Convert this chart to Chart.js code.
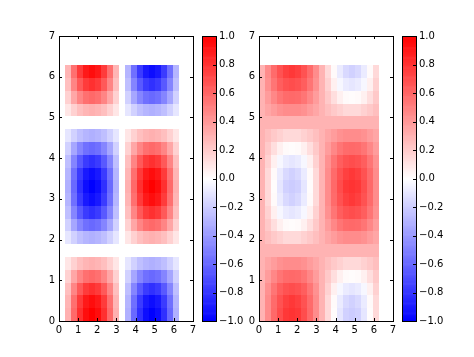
<!DOCTYPE html>
<html><head><meta charset="utf-8">
<script src="https://cdn.jsdelivr.net/npm/chart.js@4.4.1/dist/chart.umd.min.js"></script>
<style>
html,body{margin:0;padding:0;background:#fff;width:474px;height:357px;overflow:hidden;position:relative}
canvas{position:absolute;top:0}
</style></head>
<body>
<canvas id="h1" width="200" height="357" style="left:0;width:200px;height:357px"></canvas>
<canvas id="cb1" width="70" height="357" style="left:190px;width:70px;height:357px"></canvas>
<canvas id="h2" width="200" height="357" style="left:200px;width:200px;height:357px"></canvas>
<canvas id="cb2" width="84" height="357" style="left:390px;width:84px;height:357px"></canvas>
<script>
// cell edges (x and y), tick labels
const xEdges = [0,0.314,0.628,0.942,1.257,1.571,1.885,2.199,2.513,2.827,3.142,3.456,3.770,4.084,4.398,4.712,5.027,5.341,5.655,5.969,6.283];
const yEdges = [0,0.314,0.628,0.942,1.257,1.571,1.885,2.199,2.513,2.827,3.142,3.456,3.770,4.084,4.398,4.712,5.027,5.341,5.655,5.969,6.283];
const axisTicks = [0,1,2,3,4,5,6,7];
const cbarTicks = [-1.0,-0.8,-0.6,-0.4,-0.2,0.0,0.2,0.4,0.6,0.8,1.0];

// left panel values, rows bottom (y=0) to top
const leftValues = [
 [0,.31,.59,.81,.95,1,.95,.81,.59,.31,0,-.31,-.59,-.81,-.95,-1,-.95,-.81,-.59,-.31],
 [0,.29,.56,.77,.90,.95,.90,.77,.56,.29,0,-.29,-.56,-.77,-.90,-.95,-.90,-.77,-.56,-.29],
 [0,.25,.48,.65,.77,.81,.77,.65,.48,.25,0,-.25,-.48,-.65,-.77,-.81,-.77,-.65,-.48,-.25],
 [0,.18,.35,.48,.56,.59,.56,.48,.35,.18,0,-.18,-.35,-.48,-.56,-.59,-.56,-.48,-.35,-.18],
 [0,.10,.18,.25,.29,.31,.29,.25,.18,.10,0,-.10,-.18,-.25,-.29,-.31,-.29,-.25,-.18,-.10],
 [0,0,0,0,0,0,0,0,0,0,0,0,0,0,0,0,0,0,0,0],
 [0,-.10,-.18,-.25,-.29,-.31,-.29,-.25,-.18,-.10,0,.10,.18,.25,.29,.31,.29,.25,.18,.10],
 [0,-.18,-.35,-.48,-.56,-.59,-.56,-.48,-.35,-.18,0,.18,.35,.48,.56,.59,.56,.48,.35,.18],
 [0,-.25,-.48,-.65,-.77,-.81,-.77,-.65,-.48,-.25,0,.25,.48,.65,.77,.81,.77,.65,.48,.25],
 [0,-.29,-.56,-.77,-.90,-.95,-.90,-.77,-.56,-.29,0,.29,.56,.77,.90,.95,.90,.77,.56,.29],
 [0,-.31,-.59,-.81,-.95,-1,-.95,-.81,-.59,-.31,0,.31,.59,.81,.95,1,.95,.81,.59,.31],
 [0,-.29,-.56,-.77,-.90,-.95,-.90,-.77,-.56,-.29,0,.29,.56,.77,.90,.95,.90,.77,.56,.29],
 [0,-.25,-.48,-.65,-.77,-.81,-.77,-.65,-.48,-.25,0,.25,.48,.65,.77,.81,.77,.65,.48,.25],
 [0,-.18,-.35,-.48,-.56,-.59,-.56,-.48,-.35,-.18,0,.18,.35,.48,.56,.59,.56,.48,.35,.18],
 [0,-.10,-.18,-.25,-.29,-.31,-.29,-.25,-.18,-.10,0,.10,.18,.25,.29,.31,.29,.25,.18,.10],
 [0,0,0,0,0,0,0,0,0,0,0,0,0,0,0,0,0,0,0,0],
 [0,.10,.18,.25,.29,.31,.29,.25,.18,.10,0,-.10,-.18,-.25,-.29,-.31,-.29,-.25,-.18,-.10],
 [0,.18,.35,.48,.56,.59,.56,.48,.35,.18,0,-.18,-.35,-.48,-.56,-.59,-.56,-.48,-.35,-.18],
 [0,.25,.48,.65,.77,.81,.77,.65,.48,.25,0,-.25,-.48,-.65,-.77,-.81,-.77,-.65,-.48,-.25],
 [0,.29,.56,.77,.90,.95,.90,.77,.56,.29,0,-.29,-.56,-.77,-.90,-.95,-.90,-.77,-.56,-.29]
];

// right panel values, rows bottom (y=0) to top
const rightValues = [
 [.30,.45,.59,.70,.78,.80,.78,.70,.59,.45,.30,.15,.01,-.10,-.18,-.20,-.18,-.10,.01,.15],
 [.30,.45,.58,.68,.75,.78,.75,.68,.58,.45,.30,.15,.02,-.08,-.15,-.18,-.15,-.08,.02,.15],
 [.30,.43,.54,.63,.68,.70,.68,.63,.54,.43,.30,.18,.06,-.03,-.08,-.10,-.08,-.03,.06,.18],
 [.30,.39,.47,.54,.58,.59,.58,.54,.47,.39,.30,.21,.13,.06,.02,.01,.02,.06,.13,.21],
 [.30,.35,.39,.43,.45,.45,.45,.43,.39,.35,.30,.25,.21,.18,.15,.15,.15,.18,.21,.25],
 [.30,.30,.30,.30,.30,.30,.30,.30,.30,.30,.30,.30,.30,.30,.30,.30,.30,.30,.30,.30],
 [.30,.25,.21,.18,.15,.15,.15,.18,.21,.25,.30,.35,.39,.43,.45,.45,.45,.43,.39,.35],
 [.30,.21,.13,.06,.02,.01,.02,.06,.13,.21,.30,.39,.47,.54,.58,.59,.58,.54,.47,.39],
 [.30,.18,.06,-.03,-.08,-.10,-.08,-.03,.06,.18,.30,.43,.54,.63,.68,.70,.68,.63,.54,.43],
 [.30,.15,.02,-.08,-.15,-.18,-.15,-.08,.02,.15,.30,.45,.58,.68,.75,.78,.75,.68,.58,.45],
 [.30,.15,.01,-.10,-.18,-.20,-.18,-.10,.01,.15,.30,.45,.59,.70,.78,.80,.78,.70,.59,.45],
 [.30,.15,.02,-.08,-.15,-.18,-.15,-.08,.02,.15,.30,.45,.58,.68,.75,.78,.75,.68,.58,.45],
 [.30,.18,.06,-.03,-.08,-.10,-.08,-.03,.06,.18,.30,.43,.54,.63,.68,.70,.68,.63,.54,.43],
 [.30,.21,.13,.06,.02,.01,.02,.06,.13,.21,.30,.39,.47,.54,.58,.59,.58,.54,.47,.39],
 [.30,.25,.21,.18,.15,.15,.15,.18,.21,.25,.30,.35,.39,.43,.45,.45,.45,.43,.39,.35],
 [.30,.30,.30,.30,.30,.30,.30,.30,.30,.30,.30,.30,.30,.30,.30,.30,.30,.30,.30,.30],
 [.30,.35,.39,.43,.45,.45,.45,.43,.39,.35,.30,.25,.21,.18,.15,.15,.15,.18,.21,.25],
 [.30,.39,.47,.54,.58,.59,.58,.54,.47,.39,.30,.21,.13,.06,.02,.01,.02,.06,.13,.21],
 [.30,.43,.54,.63,.68,.70,.68,.63,.54,.43,.30,.18,.06,-.03,-.08,-.10,-.08,-.03,.06,.18],
 [.30,.45,.58,.68,.75,.78,.75,.68,.58,.45,.30,.15,.02,-.08,-.15,-.18,-.15,-.08,.02,.15]
];

const FONT = {family:'"DejaVu Sans", sans-serif', size:10};

function bwr(v){
  v = Math.max(-1, Math.min(1, v));
  let r,g,b;
  if (v < 0){ r = g = Math.round(255*(1+v)); b = 255; }
  else { r = 255; g = b = Math.round(255*(1-v)); }
  return 'rgb('+r+','+g+','+b+')';
}

function cellsFrom(Z){
  const out = [];
  for (let j=0;j<Z.length;j++) for (let i=0;i<Z[j].length;i++)
    out.push({x:xEdges[i], y:yEdges[j], x1:xEdges[i+1], y1:yEdges[j+1], v:Z[j][i]});
  return out;
}

const heatPlugin = {
  id:'heat',
  beforeDatasetsDraw(chart){
    const {ctx} = chart, x = chart.scales.x, y = chart.scales.y;
    ctx.save();
    for (const c of chart.data.datasets[0].data){
      const a = Math.round(x.getPixelForValue(c.x)), b = Math.round(x.getPixelForValue(c.x1));
      const p = Math.round(y.getPixelForValue(c.y1)), q = Math.round(y.getPixelForValue(c.y));
      ctx.fillStyle = bwr(c.v);
      ctx.fillRect(a, p, b-a, q-p);
    }
    ctx.restore();
  }
};

const framePlugin = {
  id:'frame',
  afterDraw(chart, args, opts){
    const {ctx, chartArea:a} = chart;
    const L = 3;
    ctx.save();
    ctx.strokeStyle = '#000'; ctx.lineWidth = 1;
    ctx.beginPath();
    if (opts.xt){
      const s = chart.scales.x;
      for (const t of s.ticks){
        const px = Math.round(s.getPixelForValue(t.value))+0.5;
        ctx.moveTo(px, a.bottom); ctx.lineTo(px, a.bottom-L);
        ctx.moveTo(px, a.top); ctx.lineTo(px, a.top+L);
      }
    }
    const sy = chart.scales.y;
    for (const t of sy.ticks){
      const py = Math.round(sy.getPixelForValue(t.value))+0.5;
      if (opts.yl){ ctx.moveTo(a.left, py); ctx.lineTo(a.left+L, py); }
      ctx.moveTo(a.right, py); ctx.lineTo(a.right-L, py);
    }
    ctx.stroke();
    ctx.strokeRect(a.left+0.5, a.top+0.5, a.right-a.left, a.bottom-a.top);
    ctx.restore();
  }
};

const cbarPlugin = {
  id:'cbar',
  beforeDatasetsDraw(chart){
    const {ctx, chartArea:a} = chart, y = chart.scales.y;
    const N = 256;
    ctx.save();
    for (let k=0;k<N;k++){
      const v0 = -1 + 2*k/N, v1 = -1 + 2*(k+1)/N;
      const p0 = y.getPixelForValue(v1), p1 = y.getPixelForValue(v0);
      ctx.fillStyle = bwr((v0+v1)/2);
      ctx.fillRect(a.left, p0, a.right-a.left, p1-p0+0.6);
    }
    ctx.restore();
  }
};

function heatChart(id, Z){
  return new Chart(document.getElementById(id), {
    type:'scatter',
    data:{datasets:[{data:cellsFrom(Z), pointRadius:0, pointHoverRadius:0, showLine:false}]},
    options:{
      responsive:false, animation:false, events:[],
      layout:{padding:{left:29, right:7, top:36, bottom:16}},
      plugins:{legend:{display:false}, tooltip:{enabled:false}, frame:{xt:true, yl:true}},
      scales:{
        x:{type:'linear', min:0, max:7,
           afterBuildTicks(s){ s.ticks = axisTicks.map(v=>({value:v})); },
           afterFit(s){ s.height = 20; },
           grid:{display:false, drawTicks:false}, border:{display:false},
           ticks:{padding:3, color:'#000', font:FONT, maxRotation:0, autoSkip:false, callback:v=>String(v)}},
        y:{type:'linear', min:0, max:7,
           afterBuildTicks(s){ s.ticks = axisTicks.map(v=>({value:v})); },
           afterFit(s){ s.width = 30; },
           grid:{display:false, drawTicks:false}, border:{display:false},
           ticks:{padding:4, color:'#000', font:FONT, autoSkip:false, callback:v=>String(v)}}
      }
    },
    plugins:[heatPlugin, framePlugin]
  });
}

function cbarChart(id, padRight){
  return new Chart(document.getElementById(id), {
    type:'scatter',
    data:{datasets:[{data:[], pointRadius:0}]},
    options:{
      responsive:false, animation:false, events:[],
      layout:{padding:{left:12, right:padRight, top:36, bottom:36}},
      plugins:{legend:{display:false}, tooltip:{enabled:false}, frame:{xt:false, yl:false}},
      scales:{
        x:{type:'linear', min:0, max:1, display:false},
        y:{type:'linear', position:'right', min:-1, max:1,
           afterBuildTicks(s){ s.ticks = cbarTicks.map(v=>({value:v})); },
           afterFit(s){ s.width = 40; },
           grid:{display:false, drawTicks:false}, border:{display:false},
           ticks:{padding:3, color:'#000', font:FONT, autoSkip:false,
             callback:v=>{ const t = Math.abs(v)<1e-9 ? '0.0' : v.toFixed(1); return t.replace('-', '\u2212'); }}}
      }
    },
    plugins:[cbarPlugin, framePlugin]
  });
}

heatChart('h1', leftValues);
cbarChart('cb1', 4);
heatChart('h2', rightValues);
cbarChart('cb2', 18);
</script>
</body></html>
